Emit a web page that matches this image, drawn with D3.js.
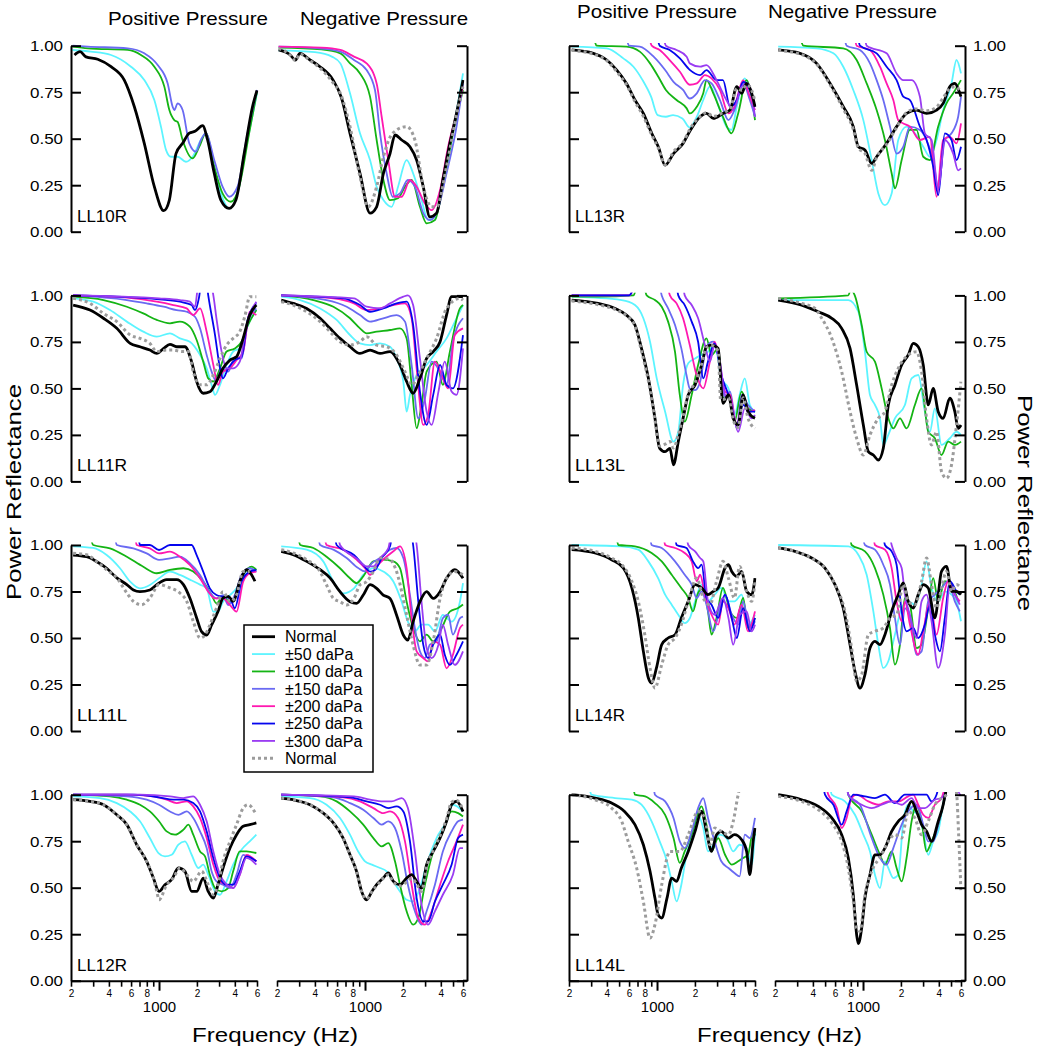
<!DOCTYPE html>
<html><head><meta charset="utf-8">
<script src="https://cdn.jsdelivr.net/npm/d3@7"></script>
<style>
body{margin:0;background:#fff;}
svg text{font-family:"Liberation Sans",Arial,Helvetica,sans-serif;fill:#000;}
</style></head><body>
<svg id="chart" width="1039" height="1050"></svg>
<script>
// ---------- DATA (frequency Hz, power reflectance) ----------
const seriesKeys = ["n","c50","c100","c150","c200","c250","c300","d"];
const seriesLabels = ["Normal","±50 daPa","±100 daPa","±150 daPa","±200 daPa","±250 daPa","±300 daPa","Normal"];
const yTickValues = [0,0.25,0.5,0.75,1];
const xTickValues = [200,300,400,500,600,700,800,900,1000,2000,3000,4000,5000,6000];
const xTickLabels = ["2","","4","","6","","8","","1000","2","","4","","6"];
const panelLabels = ["LL10R","LL11R","LL11L","LL12R","LL13R","LL13L","LL14R","LL14L"];
const columnTitles = ["Positive Pressure","Negative Pressure","Positive Pressure","Negative Pressure"];

const LL10R_pos = {
 n:[[213,.95],[236,.968],[263,.94],[326,.927],[416,.887],[530,.815],[637,.672],[764,.475],[918,.242],[1090,.113],[1208,.17],[1364,.42],[1540,.475],[1740,.53],[1930,.54],[2218,.57],[2431,.493],[2745,.314],[3099,.17],[3610,.125],[4077,.17],[4746,.42],[5526,.672],[6000,.76]],
 c50:[[206,.977],[288,.968],[416,.95],[599,.887],[764,.815],[918,.708],[1036,.565],[1136,.44],[1244,.403],[1406,.403],[1637,.376],[1848,.403],[2151,.493],[2358,.53],[2663,.385],[3099,.206],[3610,.125],[4203,.206],[5044,.493],[6000,.744]],
 c100:[[206,.995],[272,.986],[565,.977],[719,.95],[918,.887],[1102,.78],[1208,.654],[1323,.6],[1406,.59],[1540,.493],[1848,.394],[2089,.457],[2358,.53],[2745,.35],[3196,.206],[3720,.161],[4332,.242],[5200,.53],[6000,.753]],
 c150:[[206,1.0],[272,.995],[565,.986],[764,.959],[976,.896],[1172,.797],[1283,.672],[1323,.654],[1406,.69],[1540,.654],[1740,.475],[1966,.43],[2151,.493],[2358,.53],[2745,.385],[3196,.242],[3610,.188],[4203,.242],[5044,.53],[6000,.762]]
};
const LL10R_neg = {
 n:[[206,.977],[255,.95],[280,.923],[304,.959],[366,.923],[439,.887],[558,.815],[650,.72],[760,.529],[912,.314],[1096,.1],[1237,.134],[1400,.314],[1580,.42],[1730,.52],[1955,.493],[2275,.457],[2570,.385],[2900,.242],[3275,.08],[3700,.1],[4150,.278],[4720,.475],[5330,.636],[6000,.815]],
 d:[[206,.986],[255,.95],[280,.92],[304,.955],[366,.92],[439,.88],[558,.80],[637,.744],[760,.565],[912,.296],[1060,.134],[1237,.242],[1400,.403],[1660,.53],[2140,.565],[2490,.493],[2900,.242],[3380,.134],[3700,.134],[4440,.35],[5160,.582],[6000,.78]],
 c50:[[206,.975],[400,.965],[550,.94],[637,.905],[760,.744],[912,.529],[1096,.385],[1237,.242],[1400,.17],[1627,.134],[1830,.242],[2140,.385],[2410,.314],[2810,.17],[3170,.063],[3590,.08],[4150,.242],[4990,.529],[6000,.851]],
 c100:[[206,.99],[450,.98],[637,.959],[760,.905],[912,.851],[1096,.726],[1237,.493],[1400,.278],[1580,.17],[1830,.18],[2077,.242],[2345,.278],[2730,.134],[3085,.045],[3590,.063],[4150,.242],[4990,.529],[6000,.762]],
 c150:[[206,.995],[450,.985],[637,.968],[817,.923],[1030,.869],[1200,.762],[1316,.529],[1485,.314],[1660,.188],[1895,.206],[2190,.278],[2490,.242],[2900,.1],[3275,.063],[3700,.1],[4440,.314],[5330,.565],[6000,.797]],
 c200:[[206,.995],[450,.99],[637,.977],[817,.941],[1030,.905],[1237,.797],[1356,.618],[1530,.385],[1730,.188],[1955,.188],[2275,.278],[2570,.242],[2990,.152],[3380,.116],[3945,.224],[4570,.457],[5330,.636],[6000,.78]]
};
const LL13R_pos = {
 n:[[210,.977],[312,.959],[399,.923],[479,.869],[572,.797],[668,.708],[779,.636],[908,.529],[1024,.457],[1160,.358],[1352,.42],[1610,.475],[1820,.54],[2200,.618],[2470,.636],[2800,.609],[3340,.636],[3800,.654],[4300,.78],[4700,.744],[5150,.797],[5650,.744],[6000,.672]],
 d:[[210,.975],[312,.955],[399,.92],[479,.86],[572,.79],[668,.70],[779,.62],[908,.52],[1024,.45],[1160,.36],[1352,.43],[1610,.48],[1820,.55],[2200,.62],[2470,.64],[2800,.62],[3340,.64],[3800,.66],[4300,.77],[4700,.76],[5150,.79],[5650,.76],[6000,.70]],
 c50:[[210,.995],[399,.986],[540,.932],[650,.887],[768,.815],[897,.726],[1012,.627],[1176,.618],[1340,.627],[1590,.609],[1820,.56],[2070,.618],[2330,.708],[2630,.78],[3160,.654],[3560,.565],[3900,.547],[4300,.672],[4980,.824],[5460,.744],[6000,.618]],
 c100:[[210,1.05],[310,1.05],[331,1.0],[572,.995],[730,.968],[880,.905],[1024,.833],[1176,.762],[1430,.708],[1720,.663],[1820,.636],[2070,.672],[2330,.744],[2470,.815],[2800,.744],[3340,.618],[3900,.529],[4410,.636],[5150,.815],[5800,.672],[6000,.6]],
 c150:[[210,1.05],[560,1.05],[600,1.0],[730,.995],[940,.941],[1160,.869],[1352,.806],[1610,.762],[1820,.716],[2070,.744],[2400,.815],[2710,.797],[3160,.708],[3690,.6],[4120,.654],[4830,.797],[5460,.708],[6000,.618]],
 c200:[[210,1.05],[850,1.05],[908,1.0],[1050,.977],[1260,.923],[1520,.86],[1820,.79],[2070,.797],[2400,.842],[2710,.824],[3160,.762],[3690,.636],[4120,.672],[4830,.815],[5460,.726],[6000,.654]],
 c250:[[210,1.05],[990,1.05],[1050,1.0],[1260,.977],[1520,.932],[1820,.87],[2200,.842],[2470,.869],[2970,.815],[3340,.815],[3800,.672],[4300,.708],[4830,.806],[5460,.762],[6000,.672]],
 c300:[[210,1.05],[1110,1.05],[1176,1.0],[1430,.977],[1720,.941],[1820,.905],[2200,.887],[2470,.896],[2970,.815],[3560,.708],[4030,.654],[4700,.78],[5280,.797],[6000,.618]]
};
const LL13R_neg = {
 n:[[212,.977],[316,.959],[428,.905],[548,.797],[697,.672],[837,.565],[918,.457],[1036,.439],[1172,.367],[1283,.403],[1540,.475],[1848,.565],[2218,.636],[2663,.654],[3196,.636],[3836,.654],[4332,.69],[4892,.78],[5360,.797],[5870,.744],[6000,.726]],
 d:[[212,.975],[316,.955],[428,.90],[548,.79],[697,.66],[837,.55],[918,.45],[1036,.42],[1172,.33],[1283,.40],[1540,.47],[1848,.56],[2218,.64],[2663,.66],[3196,.65],[3836,.67],[4332,.72],[4892,.77],[5360,.78],[5870,.76],[6000,.75]],
 c50:[[212,.995],[428,.986],[582,.959],[697,.887],[837,.762],[1006,.6],[1172,.385],[1323,.206],[1493,.143],[1688,.206],[1905,.493],[2218,.565],[2582,.529],[3008,.457],[3396,.403],[3836,.493],[4332,.654],[5044,.797],[5526,.923],[6000,.851]],
 c100:[[212,1.05],[310,1.05],[336,1.0],[697,.986],[890,.923],[1069,.797],[1283,.654],[1493,.493],[1688,.314],[1792,.233],[2027,.385],[2358,.547],[2663,.547],[3008,.403],[3396,.385],[3955,.565],[4604,.69],[5200,.744],[6000,.815]],
 c150:[[212,1.05],[700,1.05],[741,1.0],[946,.977],[1136,.905],[1283,.815],[1449,.708],[1637,.565],[1848,.42],[2089,.457],[2358,.565],[2830,.547],[3196,.493],[3610,.385],[3955,.242],[4465,.493],[5044,.529],[5697,.618],[6000,.726]],
 c200:[[212,1.05],[850,1.05],[890,1.0],[1136,.977],[1364,.887],[1540,.797],[1740,.708],[1905,.6],[2089,.582],[2358,.565],[2830,.493],[3396,.51],[3836,.188],[4332,.493],[4892,.51],[5526,.475],[6000,.582]],
 c250:[[212,1.05],[900,1.05],[946,1.0],[1283,.959],[1540,.887],[1848,.815],[2089,.726],[2358,.708],[2830,.565],[3196,.493],[3610,.35],[3955,.197],[4465,.529],[5044,.493],[5526,.385],[6000,.457]],
 c300:[[212,1.05],[1020,1.05],[1069,1.0],[1540,.959],[1848,.851],[2089,.815],[2431,.815],[2830,.726],[3099,.529],[3502,.493],[3955,.224],[4465,.493],[5200,.42],[5697,.33],[6000,.34]]
};
const LL11R_pos = {
 n:[[208,.948],[283,.921],[362,.877],[462,.823],[590,.742],[706,.724],[846,.706],[960,.688],[1088,.715],[1222,.737],[1381,.724],[1606,.724],[1816,.643],[1990,.537],[2244,.474],[2532,.482],[2858,.537],[3224,.608],[3661,.652],[4128,.67],[4658,.769],[5255,.894],[5930,.948]],
 d:[[208,.984],[283,.957],[362,.903],[462,.859],[590,.787],[706,.769],[846,.742],[960,.698],[1150,.706],[1298,.706],[1520,.698],[1712,.698],[1870,.59],[2117,.519],[2390,.519],[2700,.572],[3050,.661],[3440,.733],[3880,.769],[4380,.805],[4830,.894],[5255,.993],[5930,.993]],
 c50:[[208,.984],[300,.966],[408,.921],[555,.859],[750,.805],[960,.778],[1222,.796],[1465,.769],[1757,.751],[2117,.68],[2390,.608],[2616,.519],[2785,.465],[3050,.519],[3440,.626],[3880,.698],[4380,.715],[4950,.823],[5930,.921]],
 c100:[[208,.993],[362,.975],[555,.939],[750,.903],[960,.868],[1222,.85],[1465,.859],[1757,.832],[1990,.76],[2244,.644],[2460,.554],[2700,.537],[3050,.608],[3440,.698],[4000,.715],[4520,.751],[5090,.841],[5930,.921]],
 c150:[[208,1.0],[555,.975],[798,.957],[1088,.939],[1381,.921],[1660,.912],[1930,.885],[2117,.823],[2390,.68],[2616,.59],[2858,.537],[3140,.608],[3542,.59],[4000,.67],[4520,.661],[5090,.859],[5930,.93]],
 c200:[[208,1.0],[555,.988],[960,.966],[1298,.948],[1660,.93],[1870,.894],[2117,.93],[2390,.805],[2700,.626],[2940,.519],[3224,.59],[3661,.608],[4128,.652],[4658,.698],[5255,.912],[5930,.894]],
 c250:[[208,1.0],[960,.98],[1465,.966],[1816,.948],[1930,.921],[2080,.99],[2150,1.05],[2400,1.05],[2460,1.0],[2785,.787],[3050,.608],[3224,.554],[3542,.608],[4000,.652],[4520,.67],[5090,.877],[5930,.957]],
 c300:[[208,1.0],[1000,.984],[1465,.975],[1757,.966],[1930,.939],[2052,1.05],[2600,1.05],[2700,1.0],[2858,.877],[3140,.698],[3440,.608],[3880,.608],[4380,.644],[4950,.841],[5930,.966]]
};
const LL11R_neg = {
 n:[[216,.975],[269,.957],[344,.93],[440,.877],[527,.823],[633,.769],[760,.724],[912,.688],[1096,.706],[1316,.688],[1580,.698],[1895,.626],[2140,.537],[2410,.474],[2730,.554],[3085,.661],[3480,.698],[3945,.751],[4440,.894],[4870,.993],[6000,.993]],
 d:[[216,.966],[269,.948],[344,.912],[440,.859],[527,.805],[633,.751],[760,.733],[912,.751],[1030,.778],[1237,.733],[1485,.724],[1780,.68],[2077,.59],[2345,.519],[2650,.572],[3085,.661],[3700,.769],[4440,.93],[5670,.984],[6000,.975]],
 c50:[[216,.993],[306,.975],[440,.93],[595,.868],[760,.787],[912,.742],[1096,.733],[1316,.742],[1580,.724],[1780,.661],[2015,.537],[2140,.375],[2275,.465],[2570,.572],[3085,.626],[3700,.698],[4440,.769],[5330,.877],[6000,.948]],
 c100:[[216,1.0],[389,.975],[561,.939],[760,.877],[912,.823],[1030,.796],[1237,.805],[1580,.814],[1895,.823],[2140,.769],[2345,.519],[2570,.286],[2810,.411],[3085,.59],[3700,.644],[4150,.519],[4720,.698],[5670,.93],[6000,.948]],
 c150:[[216,1.0],[495,.975],[715,.939],[912,.894],[1096,.859],[1395,.877],[1780,.894],[2077,.859],[2345,.626],[2650,.339],[2990,.447],[3380,.644],[3945,.59],[4440,.519],[4990,.751],[6000,.877]],
 c200:[[216,1.0],[561,.984],[817,.957],[1030,.921],[1316,.93],[1680,.948],[2077,.957],[2345,.877],[2570,.608],[2900,.304],[3170,.357],[3590,.644],[4060,.572],[4570,.5],[5160,.787],[6000,.823]],
 c250:[[216,1.0],[670,.984],[912,.948],[1096,.912],[1395,.93],[1780,.957],[2140,.966],[2410,.841],[2730,.483],[3085,.304],[3480,.465],[3945,.626],[4440,.519],[4990,.5],[6000,.787]],
 c300:[[216,1.0],[817,.984],[1030,.939],[1316,.93],[1580,.957],[2015,.993],[2190,1.0],[2410,.948],[2730,.661],[3085,.375],[3380,.304],[3830,.483],[4300,.644],[4870,.483],[5330,.465],[6000,.715]]
};
const LL13L_pos = {
 n:[[210,.975],[341,.957],[464,.93],[572,.894],[668,.841],[753,.715],[854,.554],[963,.339],[1050,.178],[1160,.16],[1266,.178],[1352,.089],[1475,.214],[1610,.339],[1770,.465],[2005,.519],[2260,.626],[2470,.724],[2710,.733],[3060,.715],[3340,.42],[3690,.465],[4030,.339],[4410,.303],[4830,.465],[5280,.375],[6000,.339]],
 d:[[210,.97],[341,.95],[464,.925],[572,.89],[668,.835],[753,.70],[854,.54],[963,.33],[1050,.19],[1160,.20],[1266,.214],[1352,.18],[1475,.25],[1610,.35],[1770,.47],[2005,.53],[2260,.63],[2470,.72],[2710,.73],[3060,.70],[3200,.44],[3340,.44],[3690,.45],[4030,.33],[4410,.29],[4830,.45],[5280,.34],[6000,.285]],
 c50:[[210,.993],[524,.975],[668,.948],[779,.877],[880,.751],[995,.554],[1160,.375],[1352,.214],[1475,.267],[1610,.518],[1770,.635],[2005,.661],[2260,.68],[2540,.697],[2870,.742],[3240,.554],[3690,.5],[4120,.357],[4530,.465],[4980,.554],[5460,.411],[6000,.375]],
 c100:[[210,.993],[341,.993],[650,1.0],[700,1.05],[780,1.05],[828,1.0],[963,.975],[1090,.939],[1225,.859],[1390,.697],[1517,.465],[1660,.321],[1885,.465],[2120,.626],[2470,.769],[2710,.68],[3060,.715],[3340,.447],[3690,.465],[4120,.321],[4700,.483],[5280,.393],[6000,.375]],
 c150:[[210,1.0],[600,1.0],[680,1.05],[1040,1.05],[1090,1.0],[1225,.93],[1390,.841],[1560,.715],[1714,.572],[1820,.5],[2005,.491],[2200,.536],[2470,.724],[2800,.751],[3160,.626],[3470,.447],[3800,.483],[4300,.285],[4700,.465],[5280,.411],[6000,.375]],
 c200:[[210,1.0],[600,1.0],[680,1.05],[1200,1.05],[1266,1.0],[1430,.957],[1610,.877],[1820,.733],[2060,.572],[2330,.5],[2630,.644],[2870,.751],[3160,.626],[3470,.483],[3800,.465],[4300,.303],[4830,.447],[5460,.375],[6000,.384]],
 c250:[[210,1.0],[600,1.0],[680,1.05],[1420,1.05],[1475,1.0],[1660,.948],[1885,.859],[2120,.751],[2330,.554],[2540,.644],[2870,.742],[3240,.572],[3690,.465],[4300,.303],[4830,.411],[5460,.375],[6000,.375]],
 c300:[[210,1.05],[1600,1.05],[1660,1.0],[1885,.948],[2120,.877],[2400,.733],[2630,.644],[2870,.733],[3160,.644],[3470,.465],[3800,.447],[4410,.267],[4980,.393],[5650,.339],[6000,.357]]
};
const LL13L_neg = {
 n:[[212,.975],[326,.948],[442,.912],[565,.877],[677,.823],[789,.715],[890,.518],[1006,.303],[1102,.16],[1208,.142],[1323,.115],[1449,.178],[1588,.411],[1792,.518],[2027,.626],[2287,.68],[2506,.742],[2745,.724],[3008,.626],[3295,.411],[3610,.5],[3955,.375],[4332,.339],[4892,.447],[5360,.375],[5697,.285],[6000,.303]],
 d:[[212,.984],[326,.957],[416,.93],[470,.877],[565,.769],[677,.59],[789,.375],[890,.232],[1006,.142],[1136,.25],[1323,.339],[1493,.375],[1688,.518],[1905,.608],[2287,.68],[2663,.697],[2918,.59],[3196,.339],[3502,.196],[3836,.267],[4203,.053],[4604,.017],[5044,.089],[5526,.303],[6000,.536]],
 c50:[[212,.975],[764,.975],[918,.912],[1036,.697],[1136,.465],[1244,.411],[1364,.339],[1449,.196],[1588,.25],[1792,.339],[2151,.411],[2431,.554],[2745,.572],[3099,.375],[3396,.267],[3720,.393],[4203,.196],[4892,.232],[5526,.267],[6000,.25]],
 c100:[[212,.984],[764,1.0],[800,1.03],[860,1.0],[976,.841],[1069,.697],[1244,.644],[1406,.5],[1588,.339],[1740,.285],[1966,.339],[2218,.285],[2582,.411],[2918,.5],[3295,.267],[3720,.232],[4203,.142],[4746,.214],[5360,.196],[6000,.214]]
};
const LL11L_pos = {
 n:[[208,.946],[266,.937],[321,.91],[384,.875],[462,.823],[555,.787],[626,.758],[706,.749],[846,.758],[960,.787],[1150,.814],[1381,.814],[1563,.787],[1757,.715],[1990,.608],[2180,.534],[2390,.516],[2616,.57],[2940,.643],[3224,.715],[3542,.724],[3880,.697],[4380,.805],[4950,.867],[5430,.84],[5780,.805]],
 d:[[208,.955],[266,.948],[321,.91],[384,.867],[462,.823],[555,.742],[626,.697],[727,.679],[846,.715],[1000,.787],[1222,.769],[1465,.742],[1660,.697],[1870,.59],[2117,.5],[2320,.516],[2532,.57],[2858,.66],[3224,.749],[3661,.697],[4128,.731],[4658,.857],[5255,.857]],
 c50:[[208,.993],[300,.984],[384,.946],[490,.875],[590,.803],[706,.767],[846,.785],[1000,.821],[1222,.857],[1465,.839],[1757,.814],[2117,.787],[2390,.767],[2700,.642],[2940,.642],[3224,.695],[3661,.731],[4128,.767],[4520,.821],[5255,.875],[5930,.857]],
 c100:[[208,1.05],[280,1.05],[300,1.0],[408,.982],[555,.937],[750,.883],[960,.848],[1222,.866],[1563,.875],[1870,.857],[2244,.803],[2616,.731],[2858,.686],[3224,.722],[3661,.695],[4128,.731],[4658,.839],[5460,.884],[5930,.866]],
 c150:[[208,1.05],[440,1.05],[462,1.0],[626,.982],[798,.955],[1000,.92],[1222,.928],[1465,.937],[1757,.902],[2117,.839],[2460,.758],[2858,.713],[3224,.731],[3542,.677],[4000,.731],[4520,.839],[5255,.875],[5930,.857]],
 c200:[[208,1.05],[640,1.05],[665,1.0],[846,.982],[1000,.955],[1222,.964],[1465,.937],[1757,.893],[2117,.821],[2460,.749],[2785,.713],[3224,.713],[3661,.677],[4128,.642],[4658,.803],[5255,.848],[5930,.857]],
 c250:[[208,1.05],[680,1.05],[706,1.0],[846,1.0],[1000,.973],[1222,1.0],[1816,1.0],[1990,.946],[2244,.857],[2532,.767],[2858,.731],[3224,.722],[3661,.713],[4000,.66],[4520,.803],[5255,.857],[5930,.866]]
};
const LL11L_neg = {
 n:[[216,.966],[269,.948],[344,.912],[440,.867],[527,.823],[633,.749],[760,.695],[857,.686],[968,.731],[1096,.787],[1237,.767],[1395,.731],[1580,.713],[1780,.624],[2015,.516],[2190,.489],[2410,.588],[2730,.695],[3085,.749],[3480,.713],[3945,.749],[4440,.821],[5160,.867],[6000,.821]],
 d:[[216,.975],[269,.957],[344,.921],[440,.857],[495,.785],[561,.713],[633,.695],[715,.677],[817,.713],[912,.785],[1030,.803],[1165,.857],[1316,.93],[1580,.921],[1780,.857],[2140,.624],[2410,.462],[2730,.355],[3085,.355],[3480,.482],[3945,.713],[4440,.821],[5160,.857],[6000,.84]],
 c50:[[216,.993],[344,.975],[466,.912],[561,.803],[670,.74],[817,.767],[968,.84],[1165,.876],[1395,.858],[1680,.804],[1955,.695],[2190,.588],[2490,.536],[2810,.572],[3170,.572],[3590,.536],[4150,.624],[4870,.588],[5670,.695],[6000,.795]],
 c100:[[216,1.05],[290,1.05],[306,1.0],[389,.984],[495,.937],[633,.875],[760,.821],[857,.795],[968,.831],[1165,.912],[1395,.921],[1680,.912],[1895,.876],[2140,.695],[2410,.554],[2730,.482],[3085,.518],[3480,.482],[4060,.552],[4720,.642],[5490,.661],[6000,.68]],
 c150:[[216,1.05],[420,1.05],[440,1.0],[561,.975],[715,.93],[883,.876],[1000,.858],[1135,.903],[1316,.93],[1580,.975],[1780,.984],[2015,.93],[2275,.731],[2490,.552],[2730,.428],[2990,.392],[3275,.464],[3700,.482],[4150,.606],[4570,.625],[4990,.518],[5670,.606],[6000,.615]],
 c200:[[216,1.05],[470,1.05],[495,1.0],[670,.975],[857,.921],[1000,.876],[1096,.84],[1237,.885],[1440,.93],[1680,.966],[1895,.993],[2140,.876],[2345,.606],[2570,.428],[2900,.392],[3170,.374],[3480,.482],[3945,.464],[4440,.337],[4990,.41],[5670,.553],[6000,.572]],
 c250:[[216,1.05],[570,1.05],[595,1.0],[817,.946],[968,.893],[1096,.857],[1200,.866],[1356,.93],[1580,.993],[1650,1.05],[2350,1.05],[2410,1.0],[2650,.695],[2900,.464],[3170,.392],[3480,.464],[3945,.518],[4300,.41],[4720,.355],[5330,.41],[6000,.482]],
 c300:[[216,1.05],[610,1.05],[633,1.0],[857,.928],[1030,.885],[1165,.885],[1316,.93],[1530,.982],[1620,1.05],[2500,1.05],[2570,1.0],[2810,.695],[3085,.446],[3380,.392],[3830,.464],[4150,.571],[4570,.464],[5160,.355],[6000,.428]]
};
const LL14R_pos = {
 n:[[210,.975],[322,.957],[436,.921],[540,.876],[631,.769],[710,.608],[779,.428],[854,.285],[906,.258],[990,.339],[1090,.464],[1225,.5],[1390,.518],[1560,.608],[1770,.697],[2005,.787],[2260,.769],[2540,.733],[2800,.751],[3060,.769],[3470,.876],[3690,.894],[3920,.858],[4300,.832],[4700,.858],[5150,.751],[5650,.733],[6000,.822]],
 d:[[210,.984],[322,.966],[436,.93],[540,.885],[631,.805],[710,.697],[800,.518],[880,.339],[963,.231],[1090,.357],[1225,.464],[1390,.5],[1560,.572],[1770,.697],[2068,.822],[2330,.715],[2630,.679],[2970,.805],[3340,.912],[3690,.822],[4120,.715],[4530,.885],[5150,.751],[5650,.697],[6000,.805]],
 c50:[[210,1.0],[524,.993],[710,.975],[854,.912],[1020,.822],[1160,.733],[1308,.679],[1475,.625],[1660,.58],[1820,.606],[2005,.697],[2260,.787],[2540,.697],[2870,.733],[3240,.769],[3690,.697],[4120,.697],[4700,.733],[5280,.572],[6000,.625]],
 c100:[[210,1.05],[470,1.05],[493,1.0],[668,.993],[906,.957],[1090,.912],[1308,.84],[1560,.769],[1770,.715],[1930,.643],[2120,.742],[2330,.769],[2540,.643],[2710,.518],[2970,.608],[3340,.769],[3800,.643],[4300,.608],[4830,.715],[5280,.554],[6000,.608]],
 c150:[[210,1.05],[870,1.05],[906,1.0],[1090,.984],[1390,.912],[1660,.84],[1885,.787],[2068,.715],[2260,.751],[2470,.679],[2800,.536],[3160,.661],[3470,.733],[3920,.625],[4410,.572],[4830,.697],[5460,.545],[6000,.59]],
 c200:[[210,1.05],[1120,1.05],[1160,1.0],[1390,.984],[1660,.957],[1885,.912],[2068,.805],[2200,.84],[2400,.733],[2710,.625],[3060,.572],[3340,.697],[3690,.661],[4120,.572],[4700,.679],[5280,.536],[6000,.643]],
 c250:[[210,1.05],[1380,1.05],[1430,1.0],[1714,.984],[1930,.912],[2120,.876],[2260,.894],[2470,.715],[2710,.679],[3060,.608],[3470,.733],[3920,.608],[4300,.5],[4830,.661],[5460,.536],[6000,.608]],
 c300:[[210,1.05],[1700,1.05],[1770,1.0],[2005,.966],[2200,.93],[2330,.912],[2540,.697],[2870,.625],[3340,.715],[3690,.608],[4030,.464],[4530,.625],[5150,.643],[5650,.536],[6000,.572]]
};
const LL14R_neg = {
 n:[[212,.984],[288,.966],[391,.93],[499,.876],[599,.787],[697,.661],[789,.464],[863,.321],[946,.231],[1036,.303],[1136,.446],[1244,.482],[1364,.464],[1493,.518],[1688,.643],[1905,.733],[2089,.796],[2287,.697],[2506,.661],[2745,.733],[3008,.787],[3295,.769],[3720,.608],[4203,.858],[4604,.885],[5044,.751],[5526,.751],[6000,.733]],
 d:[[212,.984],[288,.966],[391,.93],[499,.876],[599,.787],[719,.643],[812,.446],[890,.267],[976,.303],[1102,.518],[1244,.536],[1449,.554],[1637,.608],[1848,.625],[2089,.787],[2287,.697],[2582,.679],[2918,.805],[3196,.93],[3502,.787],[3836,.661],[4203,.769],[4604,.858],[5044,.751],[5526,.787],[6000,.769]],
 c50:[[212,1.0],[764,.993],[918,.948],[1069,.84],[1208,.643],[1323,.464],[1449,.339],[1588,.375],[1792,.518],[2027,.661],[2287,.697],[2582,.679],[2918,.787],[3196,.912],[3502,.769],[3955,.697],[4465,.751],[5044,.733],[5526,.697],[6000,.59]],
 c100:[[212,1.05],[780,1.05],[812,1.0],[1036,.966],[1244,.876],[1449,.733],[1637,.554],[1792,.357],[1966,.464],[2151,.715],[2358,.679],[2663,.446],[2918,.464],[3295,.661],[3610,.822],[3955,.697],[4465,.805],[5044,.787],[5697,.697]],
 c150:[[212,1.05],[980,1.05],[1036,1.0],[1244,.975],[1449,.894],[1637,.787],[1792,.608],[1966,.464],[2151,.661],[2358,.608],[2663,.41],[2918,.428],[3295,.697],[3720,.733],[4203,.769],[4746,.805],[5360,.697],[5870,.643]],
 c200:[[212,1.05],[1200,1.05],[1244,1.0],[1493,.975],[1688,.876],[1848,.697],[2027,.59],[2151,.697],[2358,.572],[2745,.41],[3008,.536],[3396,.697],[3836,.518],[4332,.715],[4746,.805],[5360,.733],[5870,.697]],
 c250:[[212,1.05],[1440,1.05],[1493,1.0],[1688,.966],[1848,.894],[2027,.643],[2218,.536],[2506,.554],[2745,.5],[3099,.572],[3396,.679],[3720,.518],[4077,.428],[4465,.608],[4892,.805],[5526,.751],[5870,.733]],
 c300:[[212,1.05],[1620,1.05],[1688,1.0],[1848,.93],[2027,.876],[2151,.733],[2358,.625],[2663,.5],[2918,.697],[3196,.733],[3502,.59],[3955,.339],[4465,.518],[4892,.787],[5526,.715],[5870,.679]]
};
const LL12R_pos = {
 n:[[208,.973],[283,.964],[362,.946],[462,.892],[555,.839],[665,.731],[798,.642],[902,.552],[1000,.48],[1114,.516],[1260,.543],[1425,.606],[1606,.588],[1816,.48],[1990,.48],[2244,.552],[2460,.48],[2700,.444],[2940,.516],[3224,.606],[3661,.713],[4128,.785],[4658,.83],[5255,.839],[5930,.848]],
 d:[[208,.973],[283,.964],[362,.946],[462,.892],[555,.839],[665,.731],[798,.642],[902,.552],[960,.48],[1000,.435],[1150,.516],[1298,.552],[1465,.606],[1660,.57],[1870,.534],[2180,.588],[2460,.516],[2700,.462],[2940,.516],[3224,.642],[3661,.749],[4128,.839],[4658,.928],[5090,.946],[5930,.892]],
 c50:[[208,.991],[340,.982],[462,.955],[590,.91],[706,.857],[846,.767],[990,.686],[1114,.668],[1260,.677],[1425,.731],[1606,.749],[1816,.677],[2052,.606],[2244,.624],[2460,.57],[2785,.48],[3050,.462],[3440,.534],[3880,.624],[4520,.704],[5255,.749],[5930,.785]],
 c100:[[208,1.0],[408,.991],[555,.973],[706,.946],[846,.91],[1000,.857],[1150,.803],[1340,.785],[1563,.812],[1712,.839],[1870,.785],[2117,.695],[2320,.668],[2532,.57],[2785,.498],[3140,.48],[3542,.498],[3880,.588],[4380,.695],[4950,.695],[5930,.686]],
 c150:[[208,1.0],[555,.991],[798,.973],[1000,.946],[1222,.91],[1425,.892],[1660,.91],[1870,.875],[2117,.803],[2390,.713],[2616,.588],[2858,.534],[3224,.516],[3661,.498],[4128,.57],[4658,.677],[5255,.66],[5930,.642]],
 c200:[[208,1.0],[555,1.0],[902,.991],[1150,.973],[1381,.955],[1660,.964],[1870,.937],[2117,.875],[2390,.767],[2700,.624],[3050,.534],[3440,.516],[3880,.498],[4380,.57],[4950,.677],[5930,.642]],
 c250:[[208,1.0],[626,1.0],[1000,.986],[1298,.973],[1563,.973],[1870,.955],[2117,.91],[2390,.803],[2700,.66],[3050,.552],[3440,.516],[3880,.516],[4380,.588],[4950,.668],[5930,.642]],
 c300:[[208,1.0],[706,1.0],[1222,.991],[1563,.982],[1870,.991],[2117,.946],[2390,.857],[2700,.695],[3050,.57],[3440,.516],[3880,.498],[4380,.57],[4950,.66],[5930,.624]]
};
const LL12R_neg = {
 n:[[216,.982],[269,.973],[366,.946],[466,.901],[561,.848],[670,.767],[760,.677],[857,.588],[940,.48],[1030,.435],[1135,.48],[1237,.516],[1395,.552],[1530,.579],[1680,.534],[1895,.516],[2140,.552],[2345,.57],[2570,.534],[2810,.498],[3085,.624],[3480,.695],[3945,.767],[4440,.857],[4870,.946],[5330,.964],[6000,.91]],
 d:[[216,.982],[269,.973],[366,.946],[466,.901],[561,.848],[670,.767],[760,.677],[857,.588],[940,.48],[1030,.44],[1135,.48],[1237,.51],[1395,.55],[1530,.57],[1680,.53],[1895,.51],[2140,.53],[2345,.55],[2570,.52],[2810,.48],[3085,.61],[3480,.70],[3945,.78],[4440,.87],[4870,.96],[5330,.97],[6000,.92]],
 c50:[[216,.991],[366,.982],[495,.946],[633,.875],[760,.785],[883,.695],[1000,.642],[1135,.624],[1316,.606],[1485,.588],[1680,.534],[1895,.48],[2140,.435],[2410,.426],[2730,.498],[3085,.624],[3700,.767],[4440,.857],[4990,.946],[6000,.91]],
 c100:[[216,1.0],[440,.991],[595,.964],[760,.91],[968,.839],[1165,.767],[1356,.722],[1530,.74],[1730,.642],[1895,.516],[2140,.373],[2410,.301],[2650,.337],[2990,.516],[3480,.695],[4150,.803],[4870,.91],[5490,.901],[6000,.883]],
 c150:[[216,1.0],[561,.986],[760,.955],[968,.919],[1165,.875],[1356,.839],[1530,.857],[1730,.821],[1955,.695],[2190,.516],[2490,.373],[2810,.301],[3085,.373],[3590,.516],[4150,.695],[4870,.803],[5490,.857],[6000,.866]],
 c200:[[216,1.0],[670,.986],[912,.964],[1165,.928],[1395,.901],[1580,.91],[1830,.875],[2077,.749],[2345,.516],[2650,.337],[2990,.301],[3380,.373],[3945,.516],[4570,.642],[5330,.749],[6000,.839]],
 c250:[[216,1.0],[760,.986],[1030,.964],[1316,.946],[1530,.928],[1780,.937],[2015,.91],[2275,.749],[2570,.444],[2900,.319],[3170,.319],[3590,.426],[4150,.516],[4870,.624],[5490,.767],[6000,.785]],
 c300:[[216,1.0],[817,.991],[1096,.973],[1395,.964],[1627,.964],[1955,.982],[2190,.928],[2490,.695],[2810,.409],[3170,.301],[3590,.373],[4150,.462],[4990,.57],[5670,.713],[6000,.713]]
};
const LL14L_pos = {
 n:[[210,1.0],[322,.982],[436,.955],[552,.91],[668,.839],[779,.731],[880,.588],[963,.444],[1020,.355],[1090,.337],[1200,.444],[1308,.552],[1430,.534],[1560,.606],[1770,.695],[2005,.803],[2260,.91],[2470,.803],[2710,.695],[2970,.785],[3240,.803],[3690,.767],[4120,.785],[4700,.758],[5150,.695],[5460,.57],[5800,.749],[6000,.821]],
 d:[[210,1.0],[322,.973],[436,.928],[524,.857],[590,.749],[689,.606],[779,.426],[880,.229],[963,.301],[1090,.516],[1266,.695],[1517,.695],[1770,.785],[2120,.91],[2400,.875],[2630,.731],[2870,.821],[3240,.803],[3690,.785],[4030,.857],[4410,1.0],[4600,1.05],[6000,1.05]],
 c50:[[210,1.05],[285,1.05],[301,1.0],[464,.982],[631,.973],[753,.946],[906,.857],[1050,.749],[1200,.642],[1308,.534],[1430,.426],[1560,.516],[1714,.677],[1885,.767],[2120,.892],[2330,.821],[2540,.695],[2800,.731],[3160,.785],[3560,.767],[4030,.695],[4530,.731],[5150,.713],[5650,.624],[6000,.803]],
 c100:[[210,1.05],[640,1.05],[668,1.0],[805,.991],[963,.955],[1160,.892],[1352,.767],[1517,.633],[1660,.695],[1885,.785],[2260,.937],[2470,.839],[2710,.695],[3060,.767],[3470,.677],[3920,.624],[4410,.642],[4830,.66],[5280,.677],[5800,.803],[6000,.78]],
 c150:[[210,1.05],[930,1.05],[963,1.0],[1160,.964],[1352,.875],[1517,.749],[1660,.713],[1885,.803],[2120,.928],[2330,.982],[2540,.875],[2870,.749],[3240,.642],[3690,.606],[4120,.579],[4530,.561],[4980,.785],[5460,.767],[6000,.875]]
};
const LL14L_neg = {
 n:[[212,1.0],[326,.973],[442,.937],[565,.875],[677,.785],[764,.66],[837,.462],[890,.247],[918,.2],[976,.283],[1036,.444],[1136,.57],[1244,.677],[1364,.677],[1493,.713],[1688,.803],[1905,.857],[2151,.892],[2431,.964],[2663,.91],[2918,.839],[3196,.803],[3502,.749],[3955,.857],[4332,.946],[4465,.99],[4700,1.05],[6000,1.05]],
 d:[[212,.991],[326,.964],[442,.919],[565,.848],[677,.749],[764,.606],[837,.426],[890,.283],[946,.265],[1036,.462],[1172,.588],[1406,.677],[1588,.749],[1792,.785],[2027,.767],[2287,.91],[2582,.875],[2918,.785],[3295,.857],[3720,.946],[4203,.982],[4604,1.0],[4900,1.05],[5360,1.05],[5550,1.0],[5750,.78],[6000,.48]],
 c50:[[212,1.05],[540,1.05],[565,1.0],[719,.964],[863,.892],[1006,.785],[1136,.695],[1244,.57],[1364,.498],[1493,.642],[1588,.606],[1740,.552],[1905,.57],[2089,.857],[2287,.946],[2506,.91],[2745,.892],[3008,.803],[3295,.677],[3610,.749],[3955,.803],[4465,1.0],[4700,1.05]],
 c100:[[212,1.05],[740,1.05],[764,1.0],[976,.91],[1172,.785],[1364,.677],[1493,.624],[1688,.695],[1848,.606],[2027,.534],[2218,.66],[2431,.857],[2663,.946],[2918,.857],[3196,.695],[3502,.749],[3955,.839],[4465,.982],[4700,1.05]],
 c150:[[212,1.05],[740,1.05],[764,1.0],[946,.946],[1172,.767],[1364,.66],[1540,.624],[1740,.713],[2027,.839],[2287,.91],[2663,.946],[3008,.839],[3295,.749],[3610,.749],[3955,.839],[4465,.982],[4700,1.05]],
 c200:[[212,1.05],[500,1.05],[530,1.0],[619,.928],[677,.821],[741,.875],[812,.982],[890,1.0],[1102,.964],[1323,.946],[1588,.964],[1905,.964],[2287,.991],[2500,1.0],[2745,.946],[3008,.892],[3295,.875],[3720,.946],[4203,.982],[4500,1.05]],
 c250:[[212,1.05],[480,1.05],[499,1.0],[582,.946],[677,.839],[741,.91],[837,1.0],[1036,.991],[1244,.982],[1493,1.0],[1792,.955],[2151,1.0],[3196,1.0],[3502,.964],[3836,1.0],[4000,1.05]],
 c300:[[212,1.05],[740,1.05],[764,1.0],[976,.946],[1172,.928],[1406,.946],[1688,.964],[2027,.946],[2431,.982],[2745,.928],[3099,.928],[3720,.973],[4203,.982],[4600,1.02],[5500,1.05],[5900,1.0],[6000,1.0]]
};

// panel grid: [data, row, col]
const panelData = [
 [LL10R_pos,0,0],[LL10R_neg,0,1],[LL13R_pos,0,2],[LL13R_neg,0,3],
 [LL11R_pos,1,0],[LL11R_neg,1,1],[LL13L_pos,1,2],[LL13L_neg,1,3],
 [LL11L_pos,2,0],[LL11L_neg,2,1],[LL14R_pos,2,2],[LL14R_neg,2,3],
 [LL12R_pos,3,0],[LL12R_neg,3,1],[LL14L_pos,3,2],[LL14L_neg,3,3]
];

// ---------- STYLE / LAYOUT ----------
const styles = {
 n:{color:"#000000",width:2.8,dash:null},
 c50:{color:"#5cf4ff",width:1.8,dash:null},
 c100:{color:"#14b414",width:1.8,dash:null},
 c150:{color:"#6a6af2",width:1.8,dash:null},
 c200:{color:"#ff18b0",width:1.8,dash:null},
 c250:{color:"#0505ee",width:1.8,dash:null},
 c300:{color:"#9a3cf2",width:1.8,dash:null},
 d:{color:"#9c9c9c",width:3,dash:"3,3"}
};
const drawOrder = ["c50","c100","c150","c200","c250","c300","n","d"];
const colX = [71, 277, 569, 775];
const rowY = [45.7, 295.4, 545, 794.7];
const PW = 186, PH = 186;

const svg = d3.select("#chart");
const defs = svg.append("defs");

function fitText(sel, w){ sel.attr("textLength", w).attr("lengthAdjust","spacingAndGlyphs"); }

panelData.forEach(([data,row,col], i) => {
  const x0 = colX[col], y0 = rowY[row];
  const x = d3.scaleLog().domain([200,6000]).range([x0, x0+PW]);
  const y = d3.scaleLinear().domain([0,1]).range([y0+PH, y0]);
  const clipId = "clip"+i;
  defs.append("clipPath").attr("id",clipId).append("rect")
    .attr("x",x0).attr("y",y0-2.6).attr("width",PW+1.5).attr("height",PH+4.6);
  const line = d3.line().x(d=>x(d[0])).y(d=>y(d[1])).curve(d3.curveMonotoneX);
  const g = svg.append("g").attr("clip-path",`url(#${clipId})`);
  drawOrder.forEach(k => {
    if (!data[k]) return;
    const s = styles[k];
    g.append("path").datum(data[k]).attr("d",line)
      .attr("fill","none").attr("stroke",s.color).attr("stroke-width",s.width)
      .attr("stroke-linejoin","round")
      .attr("stroke-dasharray",s.dash);
  });
  // y axis
  const isLeft = col % 2 === 0;
  const axX = isLeft ? x0 : x0 + PW + 4;
  const showLabels = (col === 0 || col === 3);
  const ax = (isLeft ? d3.axisLeft(y) : d3.axisRight(y))
    .tickValues(yTickValues).tickSizeInner(-10).tickSizeOuter(0).tickPadding(8)
    .tickFormat(showLabels ? d3.format(".2f") : () => "");
  const ag = svg.append("g").attr("transform",`translate(${axX},0)`).call(ax);
  ag.select(".domain").attr("stroke","#000").attr("stroke-width",2);
  ag.selectAll(".tick line").attr("stroke","#000").attr("stroke-width",2);
  ag.selectAll(".tick text").attr("font-size",15).attr("font-family",null).each(function(){
    if (this.textContent) fitText(d3.select(this), 33);
  });
  // panel label
  if (isLeft) {
    svg.append("text").attr("x",x0+6).attr("y",y0+PH-10).attr("font-size",17)
      .text(panelLabels[row + (col===2?4:0)]).call(fitText,50);
  }
  // x axis on bottom row
  if (row === 3) {
    const xa = d3.axisBottom(x).tickValues(xTickValues).tickSize(6).tickPadding(3).tickSizeOuter(0)
      .tickFormat((d,j) => xTickLabels[j]);
    const xg = svg.append("g").attr("transform",`translate(0,${y0+PH})`).call(xa);
    xg.select(".domain").attr("stroke","#000").attr("stroke-width",2);
    xg.selectAll(".tick line").attr("stroke","#000").attr("stroke-width",1.6);
    xg.selectAll(".tick text").attr("font-size",10).attr("font-family",null);
    xg.selectAll(".tick").filter(d => d === 1000).each(function(){
      d3.select(this).select("line").attr("y2",10).attr("stroke-width",2);
      d3.select(this).select("text").attr("y",21).attr("font-size",15);
    });
    if (!isLeft) {
      svg.append("line").attr("x1",x0+PW).attr("x2",axX+1).attr("y1",y0+PH).attr("y2",y0+PH)
        .attr("stroke","#000").attr("stroke-width",2);
    }
  }
});

// column titles
const titlePos = [[108,25,160],[300,25,168],[577,18,160],[768,18,169]];
columnTitles.forEach((t,i) => {
  svg.append("text").attr("x",titlePos[i][0]).attr("y",titlePos[i][1]).attr("font-size",19)
    .text(t).call(fitText,titlePos[i][2]);
});

// axis titles
[[192,358],[697,862]].forEach(([a,b]) => {
  svg.append("text").attr("x",a).attr("y",1042).attr("font-size",21)
    .text("Frequency (Hz)").call(fitText,b-a);
});
svg.append("text").attr("transform","translate(21,600) rotate(-90)").attr("font-size",21)
  .text("Power Reflectance").call(fitText,216);
svg.append("text").attr("transform","translate(1018,395) rotate(90)").attr("font-size",21)
  .text("Power Reflectance").call(fitText,216);

// legend
const lg = svg.append("g");
lg.append("rect").attr("x",244).attr("y",625).attr("width",129).attr("height",147)
  .attr("fill","#fff").attr("stroke","#000").attr("stroke-width",1.5);
seriesKeys.forEach((k,i) => {
  const yy = 636.7 + i*17.37;
  const s = styles[k];
  lg.append("line").attr("x1",252).attr("x2",275).attr("y1",yy).attr("y2",yy)
    .attr("stroke",s.color).attr("stroke-width",s.width).attr("stroke-dasharray",s.dash);
  lg.append("text").attr("x",285).attr("y",yy).attr("dy","0.36em").attr("font-size",16)
    .text(seriesLabels[i]);
});
</script>
</body></html>
